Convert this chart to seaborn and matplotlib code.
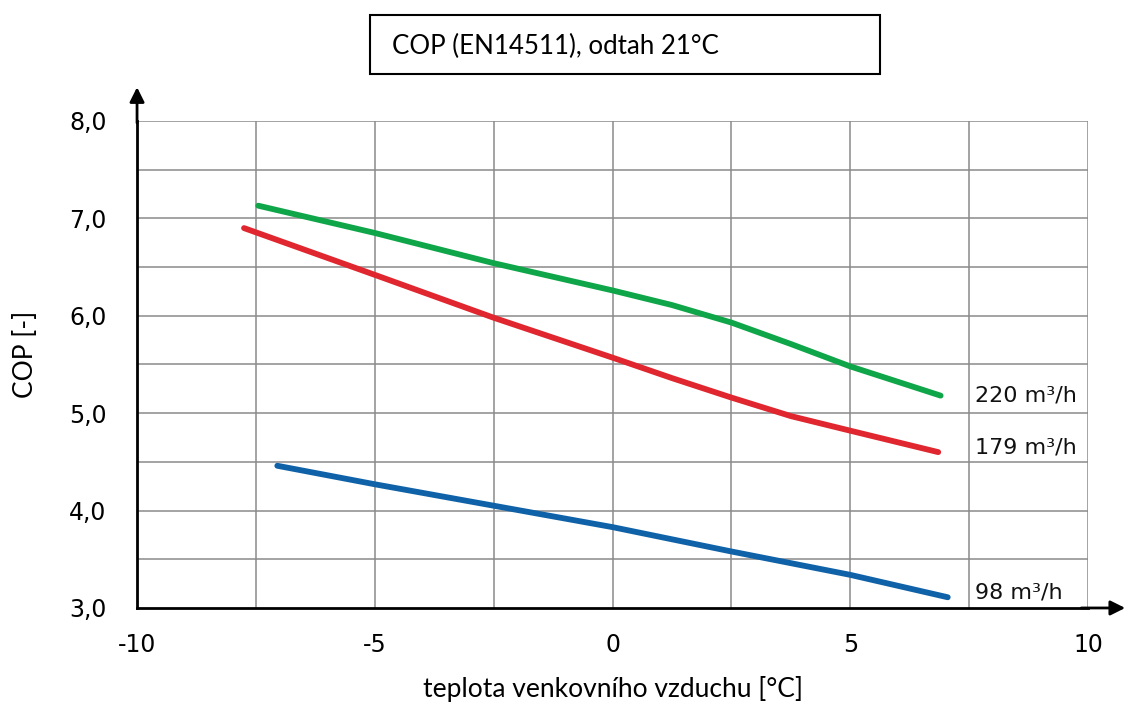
import matplotlib
matplotlib.use("Agg")
import matplotlib.pyplot as plt
import pandas as pd
import seaborn as sns

# hodnoty
temp_220 = [-7.45, -5.0, -2.5, -1.25, 0.0, 1.25, 2.5, 3.75, 5.0, 6.9]
cop_220 = [7.13, 6.85, 6.54, 6.40, 6.26, 6.11, 5.93, 5.71, 5.48, 5.18]
temp_179 = [-7.75, -5.0, -2.5, 0.0, 1.25, 2.5, 3.75, 5.0, 6.85]
cop_179 = [6.90, 6.42, 5.98, 5.57, 5.36, 5.16, 4.97, 4.82, 4.60]
temp_98 = [-7.05, -5.0, -2.5, 0.0, 2.5, 5.0, 7.05]
cop_98 = [4.46, 4.27, 4.05, 3.83, 3.58, 3.34, 3.11]

series_names = ["220 m³/h", "179 m³/h", "98 m³/h"]
series_colors = ["#0fa64a", "#e0262e", "#0f62a8"]

x_ticks = [-10, -5, 0, 5, 10]
y_ticks = [3.0, 4.0, 5.0, 6.0, 7.0, 8.0]

frames = []
for name, xs, ys in zip(series_names,
                        [temp_220, temp_179, temp_98],
                        [cop_220, cop_179, cop_98]):
    frames.append(pd.DataFrame({"teplota": xs, "cop": ys, "prutok": name}))
df = pd.concat(frames, ignore_index=True)

sns.set_style("white")
plt.rcParams["font.family"] = ["DejaVu Sans"]
plt.rcParams["text.color"] = "black"
plt.rcParams["axes.labelcolor"] = "black"
plt.rcParams["xtick.color"] = "black"
plt.rcParams["ytick.color"] = "black"

fig = plt.figure(figsize=(11.27, 7.04), dpi=100)
ax = fig.add_axes([0.1216, 0.1364, 0.8438, 0.6918])

# mřížka
for gx in [-7.5, -5, -2.5, 0, 2.5, 5, 7.5, 10]:
    ax.axvline(gx, color="#8a8a8a", lw=1.1, zorder=0)
for gy in [3.5, 4.0, 4.5, 5.0, 5.5, 6.0, 6.5, 7.0, 7.5, 8.0]:
    ax.axhline(gy, color="#8a8a8a", lw=1.1, zorder=0)

sns.lineplot(data=df, x="teplota", y="cop", hue="prutok", sort=False,
             palette=dict(zip(series_names, series_colors)),
             lw=4.2, legend=False, ax=ax, zorder=3,
             solid_capstyle="round", solid_joinstyle="round")

# popisky křivek
label_offsets = [0.0, 0.05, 0.05]
for name, ys, off in zip(series_names, [cop_220, cop_179, cop_98],
                         label_offsets):
    ax.text(7.62, ys[-1] + off, name, fontsize=16, va="center", ha="left",
            color="#111111")

ax.set_xlim(-10, 10)
ax.set_ylim(3.0, 8.0)
ax.set_xticks(x_ticks)
ax.set_xticklabels([str(t) for t in x_ticks])
ax.set_yticks(y_ticks)
ax.set_yticklabels([f"{t:.1f}".replace(".", ",") for t in y_ticks])
ax.tick_params(axis="both", length=0, labelsize=17)
ax.tick_params(axis="x", pad=18)
ax.tick_params(axis="y", pad=22)

for side in ["top", "right"]:
    ax.spines[side].set_visible(False)
for side in ["left", "bottom"]:
    ax.spines[side].set_color("black")
    ax.spines[side].set_linewidth(2)

# šipky os
ax.annotate("", xy=(0, 1.075), xytext=(0, 0.99), xycoords="axes fraction",
            arrowprops=dict(arrowstyle="-|>", color="black", lw=2,
                            mutation_scale=22), annotation_clip=False)
ax.annotate("", xy=(1.042, 0), xytext=(0.99, 0), xycoords="axes fraction",
            arrowprops=dict(arrowstyle="-|>", color="black", lw=2,
                            mutation_scale=22), annotation_clip=False)

ax.set_xlabel("teplota venkovního vzduchu [°C]", fontsize=19,
              family=["Lato", "DejaVu Sans"])
ax.xaxis.set_label_coords(0.5, -0.14)
ax.set_ylabel("COP [-]", fontsize=19, family=["Lato", "DejaVu Sans"])
ax.yaxis.set_label_coords(-0.104, 0.52)

fig.text(0.348, 0.934, "COP (EN14511), odtah 21°C", fontsize=18.6,
         va="center", ha="left", family=["Lato", "DejaVu Sans"])
title_box = plt.Rectangle((0.3283, 0.895), 0.4525, 0.084,
                          transform=fig.transFigure, fill=False,
                          ec="black", lw=1.5)
fig.patches.append(title_box)

fig.savefig("out.png", dpi=100)
